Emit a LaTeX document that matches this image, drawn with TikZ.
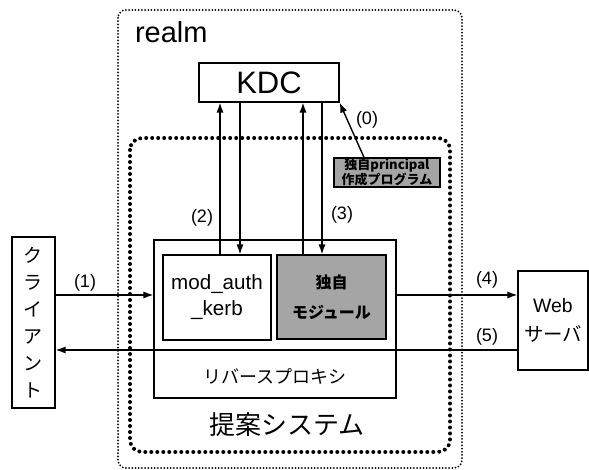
\documentclass[tikz,border=0pt]{standalone}
\usepackage{fontspec}
\setmainfont{Liberation Sans}
\newfontfamily\jp{Noto Sans CJK JP}
\usetikzlibrary{arrows.meta,calc}
\definecolor{modgray}{RGB}{165,165,165}
\tikzset{box/.style={draw,line width=0.6pt,inner sep=0pt,align=center},
 flow/.style={-{Latex[length=5pt,width=3.6pt]},line width=0.7pt},
 realmline/.style={line width=1pt,dash pattern=on 0pt off 1.6pt,line cap=round,rounded corners=4pt},
 sysline/.style={line width=2pt,dash pattern=on 0pt off 3pt,line cap=round,rounded corners=6pt},
 tag/.style={font=\fontsize{9}{10}\selectfont},
 every node/.style={font=\fontsize{9.5}{13}\selectfont}}

\begin{document}
\begin{tikzpicture}[x=0.5pt,y=-0.5pt]
\useasboundingbox (0,0) rectangle (589,470);
\draw[realmline] (118,10) rectangle (462,468);
\draw[sysline] (130,138) rectangle (450,452);
\node[anchor=base west,font=\fontsize{14.5}{16}\selectfont] (realm) at (128,43) {realm};
\node[box,minimum width=70pt,minimum height=19.5pt,font=\fontsize{15.5}{18}\selectfont] (kdc) at (269,82.5) {KDC};
\node[box,minimum width=121pt,minimum height=79pt] (proxy) at (275,319) {};
\node[font=\jp\fontsize{9}{13}\selectfont] (proxylabel) at (275,376) {リバースプロキシ};
\node[box,minimum width=54pt,minimum height=42.5pt,font=\fontsize{10.3}{13}\selectfont] (mod) at (217,297.5) {mod\_auth\\\_kerb};
\node[box,fill=modgray,minimum width=54.5pt,minimum height=42pt,font=\jp\bfseries\fontsize{8}{15}\selectfont] (own) at (331.5,297) {独自\\モジュール};
\node[box,fill=modgray,minimum width=53pt,minimum height=14.5pt,font=\jp\bfseries\fontsize{6.5}{7.5}\selectfont] (maker) at (387,172.5) {独自principal\\作成プログラム};
\node[box,minimum width=21.5pt,minimum height=85.5pt,font=\jp\fontsize{9.5}{13.5}\selectfont] (client) at (33.5,322.5) {ク\\ラ\\イ\\ア\\ン\\ト};
\node[box,minimum width=35pt,minimum height=49.5pt,font=\fontsize{9.7}{14.5}\selectfont] (web) at (553,320.5) {Web\\{\jp サーバ}};
\node[font=\jp\fontsize{13}{15}\selectfont] (system) at (287,425) {提案システム};
\draw[flow] (client.east |- 0,295) -- (proxy.west |- 0,295);
\draw[flow] (proxy.east |- 0,295) -- (web.west |- 0,295);
\draw[flow] (web.west |- 0,350) -- (client.east |- 0,350);
\draw[flow] (mod.north -| 220,0) -- (kdc.south -| 220,0);
\draw[flow] (kdc.south -| 240,0) -- (mod.north -| 240,0);
\draw[flow] (own.north -| 303,0) -- (kdc.south -| 303,0);
\draw[flow] (kdc.south -| 322,0) -- (own.north -| 322,0);
\draw[flow] (maker.north -| 364,0) -- (kdc.south east);
\node[tag] (l0) at (367,120) {(0)};
\node[tag] (l1) at (85,283) {(1)};
\node[tag] (l2) at (202,218) {(2)};
\node[tag] (l3) at (342,215) {(3)};
\node[tag] (l4) at (487,280) {(4)};
\node[tag] (l5) at (487,337) {(5)};
\end{tikzpicture}
\end{document}
